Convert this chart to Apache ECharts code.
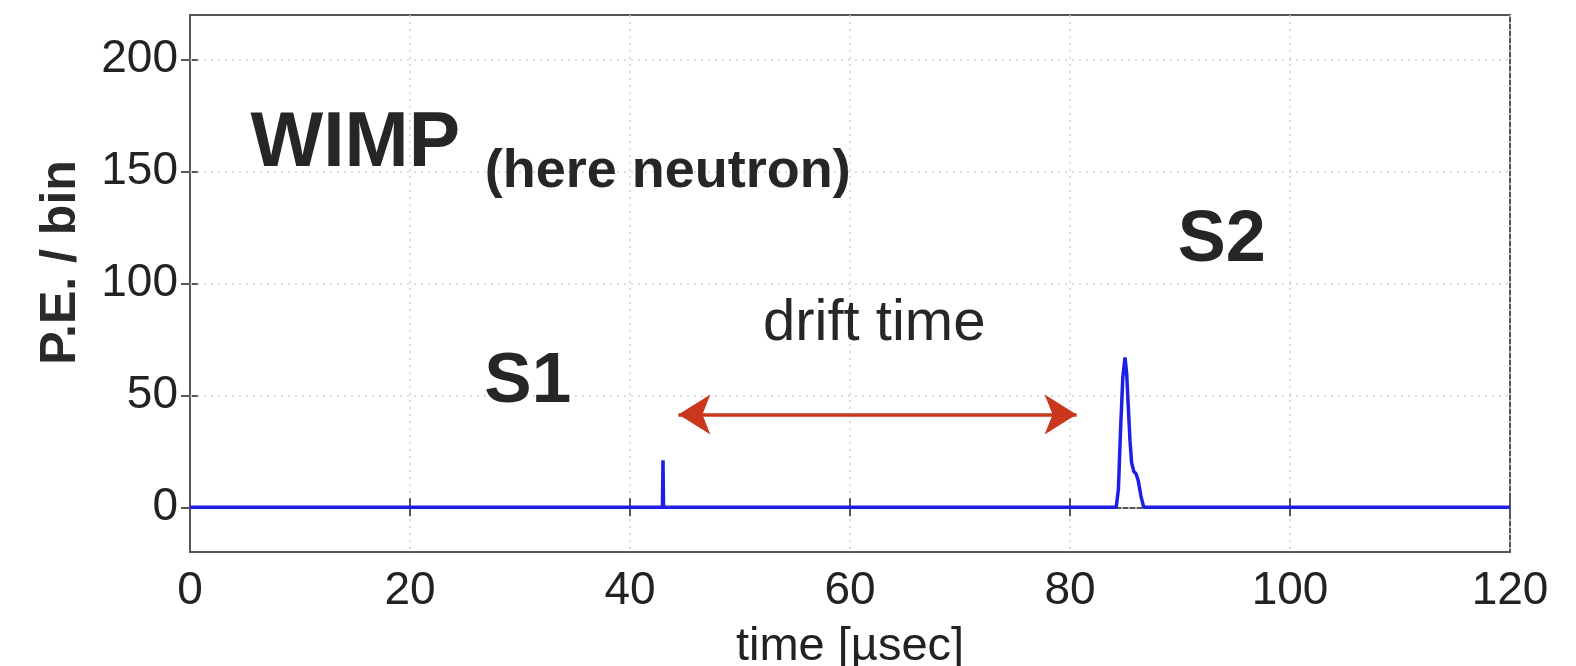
<!DOCTYPE html>
<html>
<head>
<meta charset="utf-8">
<script src="https://cdn.jsdelivr.net/npm/echarts@6/dist/echarts.min.js"></script>
<style>
html,body{margin:0;padding:0;background:#fff;}
#chart{width:1576px;height:666px;}
</style>
</head>
<body>
<div id="chart"></div>
<script>
// ---- data ----
const timeUs = [0, 42.95, 43.0, 43.05, 84.2, 84.4, 84.6, 84.8, 85.0, 85.15, 85.3, 85.45, 85.6, 85.8, 86.0, 86.2, 86.45, 86.7, 120];
const peCounts = [0, 0, 21, 0, 0, 8, 35, 58, 67, 60, 45, 30, 20, 16, 15, 12, 5, 0, 0];
const xTicks = [0, 20, 40, 60, 80, 100, 120];
const yTicks = [0, 50, 100, 150, 200];
const driftStart = 44.4, driftEnd = 80.6, driftLevel = 41.5;

const FONT = 'Liberation Sans, Arial, Helvetica, sans-serif';
const axisColor = '#555';
const textColor = '#222';

const chart = echarts.init(document.getElementById('chart'), null, {renderer: 'canvas'});

const traceData = timeUs.map((t, i) => [t, peCounts[i]]);

function annot(x, y, text, style) {
  return {value: [x, y], label: Object.assign({show: true, formatter: text, fontFamily: FONT, color: '#262626', opacity: 1}, style)};
}

const option = {
  animation: false,
  backgroundColor: '#fff',
  grid: {left: 190, right: 66, top: 15, bottom: 114, outerBoundsMode: 'none', containLabel: false,
    show: true, borderColor: axisColor, borderWidth: 2, backgroundColor: 'transparent'},
  xAxis: [{
    type: 'value', min: 0, max: 120, interval: 20, position: 'bottom',
    name: 'time [µsec]', nameLocation: 'middle', nameGap: 72,
    nameTextStyle: {fontFamily: FONT, fontSize: 47, color: textColor},
    axisLine: {show: true, lineStyle: {color: axisColor, width: 2}},
    axisTick: {show: true, inside: true, length: 9, lineStyle: {color: axisColor, width: 2}},
    axisLabel: {fontFamily: FONT, fontSize: 46, color: textColor, margin: 16},
    splitLine: {show: true, lineStyle: {color: '#cfcfcf', type: [2, 5], width: 1.5}}
  }, {
    type: 'value', min: 0, max: 120, interval: 20, position: 'top',
    axisLine: {show: true, lineStyle: {color: axisColor, width: 2}},
    axisTick: {show: true, inside: true, length: 9, lineStyle: {color: axisColor, width: 2}},
    axisLabel: {show: false}, splitLine: {show: false}
  }],
  yAxis: [{
    type: 'value', min: -20, max: 220, interval: 10, position: 'left',
    name: 'P.E. / bin', nameLocation: 'middle', nameGap: 104, nameRotate: 90,
    nameTextStyle: {fontFamily: FONT, fontSize: 50, fontWeight: 'bold', color: '#2a2a2a', padding: [0, 0, 0, 42]},
    axisLine: {show: true, lineStyle: {color: axisColor, width: 2}},
    axisTick: {show: true, inside: true, length: 9, customValues: yTicks, lineStyle: {color: axisColor, width: 2}},
    axisLabel: {fontFamily: FONT, fontSize: 46, color: textColor, margin: 12, customValues: yTicks,
      formatter: v => (v % 50 === 0 ? String(v) : '')},
    splitLine: {show: false}
  }, {
    type: 'value', min: -20, max: 220, interval: 10, position: 'right',
    axisLine: {show: true, lineStyle: {color: axisColor, width: 2}},
    axisTick: {show: true, inside: true, length: 9, customValues: yTicks, lineStyle: {color: axisColor, width: 2}},
    axisLabel: {show: false}, splitLine: {show: false}
  }],
  series: [
    {
      name: 'grid', type: 'line', data: [], silent: true,
      markLine: {
        silent: true, symbol: ['none', 'none'], label: {show: false},
        lineStyle: {color: '#cfcfcf', type: [2, 5], width: 1.5},
        data: yTicks.map(v => ({yAxis: v}))
      }
    },
    {
      name: 'drift', type: 'line', data: [], silent: true,
      markLine: {
        silent: true, symbol: ['arrow', 'arrow'], symbolSize: [30, 32], label: {show: false},
        lineStyle: {color: '#c9381c', type: 'solid', width: 3.5},
        data: [[{coord: [driftStart, driftLevel]}, {coord: [driftEnd, driftLevel]}]]
      }
    },
    {
      name: 'signal', type: 'line', data: traceData, showSymbol: false, symbol: 'none',
      lineStyle: {color: '#1e1ee6', width: 3.5}, z: 5
    },
    {
      name: 'labels', type: 'scatter', symbolSize: 0, silent: true, z: 6,
      itemStyle: {opacity: 1},
      data: [
        annot(5.5, 162, 'WIMP', {position: 'inside', align: 'left', verticalAlign: 'middle', fontSize: 77, fontWeight: 'bold'}),
        annot(26.8, 150, '(here neutron)', {position: 'inside', align: 'left', verticalAlign: 'middle', fontSize: 54, fontWeight: 'bold'}),
        annot(30.7, 56, 'S1', {position: 'inside', align: 'center', verticalAlign: 'middle', fontSize: 71, fontWeight: 'bold'}),
        annot(93.8, 119, 'S2', {position: 'inside', align: 'center', verticalAlign: 'middle', fontSize: 72, fontWeight: 'bold'}),
        annot(62.2, 82, 'drift time', {position: 'inside', align: 'center', verticalAlign: 'middle', fontSize: 58})
      ]
    }
  ]
};
chart.setOption(option);
</script>
</body>
</html>
